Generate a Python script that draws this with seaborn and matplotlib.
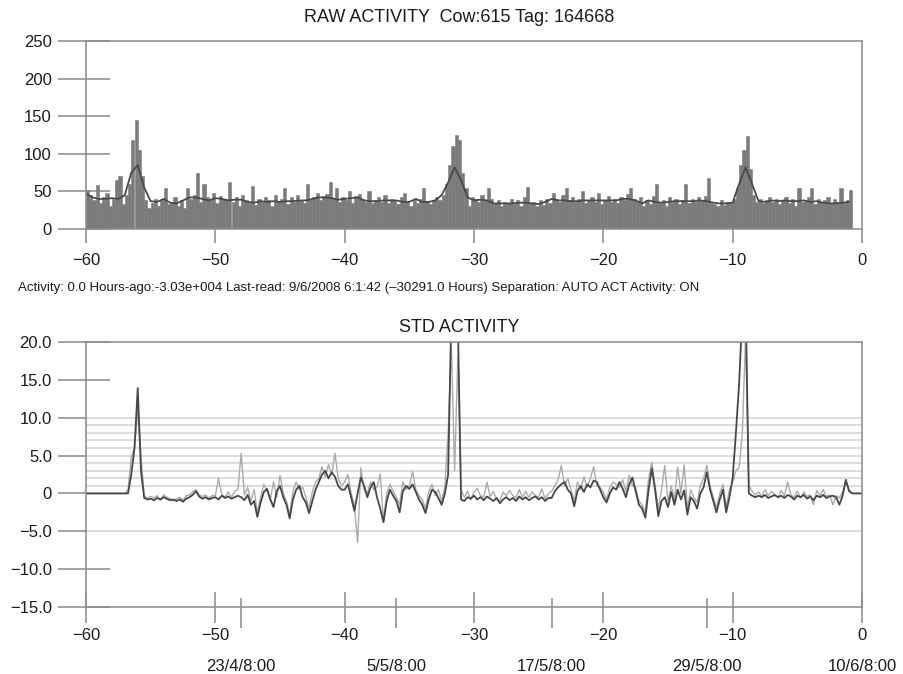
import numpy as np
import pandas as pd
import matplotlib
matplotlib.use("Agg")
import matplotlib.pyplot as plt
import seaborn as sns
from matplotlib.ticker import FixedLocator

sns.set_theme(style="white")
plt.rcParams["font.family"] = ["Liberation Sans", "DejaVu Sans"]

# ---------------------------------------------------------------- text
title_raw = "RAW ACTIVITY  Cow:615 Tag: 164668"
title_std = "STD ACTIVITY"
status_line = ("Activity: 0.0 Hours-ago:-3.03e+004 Last-read: 9/6/2008 6:1:42 "
               "(\u201330291.0 Hours) Separation: AUTO ACT Activity: ON")

# ---------------------------------------------------------------- axes ticks
day_ticks = [-60, -50, -40, -30, -20, -10, 0]
raw_yticks = [0, 50, 100, 150, 200, 250]
std_yticks = [20, 15, 10, 5, 0, -5, -10, -15]
std_ytick_labels = ["20.0", "15.0", "10.0", "5.0", "0", "\u22125.0", "\u221210.0", "\u221215.0"]
std_long_ticks = [20, 15, -10, -15]
std_grid_levels = [-5, 1, 2, 3, 4, 5, 6, 7, 8, 9, 10]
date_ticks = [-48, -36, -24, -12, 0]
date_labels = ["23/4/8:00", "5/5/8:00", "17/5/8:00", "29/5/8:00", "10/6/8:00"]

# ---------------------------------------------------------------- data
# raw activity per 6-hour bin, days before last reading (starting at day -60)
raw_start, raw_step = -60.0, 0.25
raw_activity = [
    52, 45, 38, 58,   35, 42, 48, 30,   40, 65, 70, 33,
    45, 60, 118, 145, 105, 70, 38, 28,  35, 40, 30, 38,
    55, 33, 36, 42,   30, 38, 28, 55,   40, 45, 75, 36,
    60, 42, 38, 48,   35, 44, 40, 38,   62, 36, 42, 30,
    45, 38, 35, 57,   32, 40, 36, 42,   38, 30, 45, 36,
    40, 55, 33, 42,   36, 45, 38, 34,   60, 40, 42, 48,
    38, 44, 46, 63,   40, 55, 36, 42,   38, 50, 35, 44,
    46, 40, 36, 50,   34, 38, 42, 36,   45, 35, 40, 38,
    33, 42, 48, 36,   30, 38, 35, 40,   55, 36, 33, 38,
    42, 38, 45, 60,   85, 110, 125, 118, 75, 55, 30, 42,
    40, 36, 45, 38,   55, 40, 33, 38,   30, 36, 34, 40,
    33, 38, 30, 42,   56, 34, 36, 30,   38, 32, 40, 35,
    48, 40, 36, 45,   55, 38, 42, 36,   40, 50, 35, 38,
    42, 36, 48, 33,   38, 44, 36, 40,   35, 42, 38, 46,
    55, 40, 36, 42,   30, 38, 33, 44,   60, 35, 38, 30,
    42, 36, 40, 33,   38, 60, 35, 40,   36, 42, 38, 44,
    68, 35, 33, 30,   38, 32, 36, 34,   40, 55, 85, 105,
    124, 80, 45, 36,  40, 34, 38, 42,   36, 40, 33, 38,
    42, 35, 40, 30,   55, 36, 38, 42,   55, 33, 40, 36,
    38, 42, 35, 40,   36, 55, 34, 38,
    52,
]

# running mean of raw activity, every half day from day -60
trend_start, trend_step = -60.0, 0.5
raw_trend = [
    47, 42, 40, 40, 41, 40, 45, 75, 85, 55,
    37, 36, 40, 35, 34, 38, 42, 42, 40, 38,
    41, 40, 38, 39, 39, 36, 35, 37, 36, 37,
    36, 37, 37, 38, 38, 40, 42, 42, 41, 39,
    40, 41, 42, 38, 37, 37, 38, 38, 38, 36,
    36, 40, 36, 36, 38, 45, 62, 82, 65, 42,
    38, 39, 38, 34, 34, 34, 34, 35, 35, 34,
    33, 36, 40, 38, 38, 37, 37, 38, 38, 38,
    38, 38, 38, 40, 40, 38, 34, 38, 36, 35,
    36, 37, 37, 37, 37, 38, 37, 35, 34, 34,
    35, 60, 82, 60, 37, 36, 38, 37, 38, 37,
    37, 38, 36, 37, 35, 34, 34, 35, 36,
]

# standardised activity every 6 hours from day -60 to day 0
std_start, std_step = -60.0, 0.25
std_activity = [
    0.0, 0.0, 0.0, 0.0,   0.0, 0.0, 0.0, 0.0,   0.0, 0.0, 0.0, 0.0,
    0.0, 0.0, 2.5, 6.0,   13.9, 3.0, -0.6, -0.8,  -0.7, -0.9, -0.6, -0.8,
    -0.5, -0.7, -0.9, -0.8,  -1.0, -0.8, -1.1, -0.7,  -0.5, -0.2, 0.3, -0.4,
    -0.7, -0.5, -0.8, -0.6,  -0.5, -0.8, -0.3, -0.6,  -0.4, -0.7, -0.5, -0.3,
    -0.5, -0.9, -0.2, -1.5,  -1.0, -3.1, -1.2, 0.2,   0.6, -0.8, -1.8, 0.3,
    1.0, -0.5, -1.5, -3.3,   -0.8, 0.5, 1.0, -0.5,   -1.2, -2.6, -1.0, 0.5,
    1.5, 2.5, 3.0, 2.0,      2.8, 2.2, 1.0, 0.5,     0.5, 1.2, -0.5, -2.3,
    0.0, 2.1, 1.0, -0.5,     0.8, 1.5, -0.5, -2.0,   -3.8, -1.0, 0.5, -0.3,
    -1.0, -2.5, 0.3, 1.0,    0.6, 1.2, 0.2, -0.8,    -1.5, -2.6, -0.8, 0.5,
    0.2, -0.6, -1.5, 0.0,    2.5, 24.0, 26.0, 23.0,  -0.8, -1.0, -0.5, -0.7,
    -0.3, -0.8, -0.5, -0.9,  -0.4, -0.7, -1.0, -0.6, -1.3, -0.8, -0.5, -0.9,
    -0.6, -1.0, -0.4, -0.8,  -0.5, -0.9, -0.6, -0.4, -0.8, -0.5, -1.0, -0.6,
    -0.6, 0.3, 0.8, 1.2,     1.5, 0.5, 0.0, -1.7,    0.3, 1.0, 0.2, 1.2,
    0.8, 1.7, 1.5, 0.5,      -0.5, -1.2, 0.0, 0.8,   0.5, 1.5, 0.6, -0.5,
    1.2, 2.1, 0.3, -1.5,     -2.0, -3.2, 0.5, 3.3,   0.5, -3.0, -1.0, -0.5,
    -1.8, 0.2, -1.5, 0.5,    -0.8, 0.4, -2.8, -0.5,  -1.0, -2.0, 0.0, 0.8,
    2.8, 0.5, -1.0, -2.5,    -0.8, 0.5, -2.5, -0.5,  2.0, 8.0, 14.5, 24.0,
    26.0, 0.0, -0.3, -0.5,   -0.3, -0.5, -0.2, -0.6, -0.4, -0.2, -0.5, -0.3,
    -0.6, -0.2, -0.4, -0.8,  -0.3, -0.5, -0.2, -0.7, -0.4, -0.9, -0.3, -0.5,
    -0.2, -0.6, -0.4, -0.3,  -0.5, -1.5, -0.3, 1.8,  0.3, 0.0, 0.0, 0.0,
    0.0,
]

# short-term standardised activity on the same 6-hour grid
std_activity_short = [
    0.0, 0.0, 0.0, 0.0,   0.0, 0.0, 0.0, 0.0,   0.0, 0.0, 0.0, 0.0,
    0.0, 0.5, 4.8, 6.0,   11.0, 5.0, -0.3, -0.6,  -0.4, -0.6, -0.3, -0.9,
    -0.2, -0.5, -0.7, -1.0,  -0.7, -0.5, -0.9, -0.3,  -0.2, 0.2, 0.5, -0.2,
    -0.4, -0.2, -0.6, -0.3,  -0.3, 2.0, -0.2, -0.5,   0.2, -0.5, 0.3, 0.5,
    5.3, -0.2, 0.8, -1.0,    0.5, -2.5, -0.5, 1.2,    0.3, -0.8, 1.5, -0.5,
    2.4, 0.0, -1.0, -2.8,    0.3, 1.5, 0.5, 0.8,      -0.5, -2.0, 0.2, 1.5,
    2.0, 3.5, 2.2, 3.8,      2.5, 5.3, 2.0, 1.0,      1.5, 2.5, 0.0, -1.5,
    -6.5, 3.4, 0.5, 0.0,     1.5, 0.5, 0.8, 2.6,      -3.6, 0.0, 1.2, 0.3,
    -0.5, -1.5, 1.5, 0.5,    1.0, 2.9, 0.5, -0.3,     -0.8, -2.0, 0.2, 1.2,
    -0.3, 0.5, -1.0, 1.0,    8.0, 19.5, 3.0, 18.0,    0.5, -0.5, 0.3, -0.8,
    0.2, 0.7, -0.3, -0.5,    1.5, -0.4, 0.3, -0.8,    -1.0, 0.2, -0.3, 0.4,
    -0.3, -0.6, 0.5, -0.5,   0.3, -0.5, 0.2, -0.3,    -0.5, 0.6, -0.7, 0.0,
    0.3, 1.0, 1.8, 3.7,      1.0, 2.0, 0.5, -1.0,     1.5, 0.5, 2.2, 0.8,
    2.0, 3.5, 1.0, 0.8,      0.2, -0.8, 0.8, 1.5,     1.2, 0.8, 1.8, 0.2,
    2.4, 1.0, 0.8, -1.0,     -1.5, -2.5, 2.0, 4.1,    1.0, -2.0, 0.5, 3.7,
    -1.0, 1.0, -0.8, 3.5,    0.0, 3.8, -2.0, 0.5,     -0.5, -1.2, 1.0, 2.0,
    3.7, 1.0, -0.5, -1.8,    0.0, 1.2, -1.8, 0.5,     1.5, 3.0, 3.4, 8.0,
    21.0, 1.0, 0.3, -0.2,    0.2, -0.4, 0.5, -0.3,    0.3, -0.2, -0.5, 0.4,
    -0.3, 1.5, -0.2, -0.5,   0.3, -0.6, 0.2, -0.4,    -0.2, -1.5, 0.4, -0.3,
    0.5, -0.4, -0.2, -1.5,   -0.3, -0.6, 0.2, 1.5,    0.5, 0.0, 0.0, 0.0,
    0.0,
]

raw_df = pd.DataFrame({"day": raw_start + raw_step * np.arange(len(raw_activity)),
                       "activity": raw_activity})
trend_df = pd.DataFrame({"day": trend_start + trend_step * np.arange(len(raw_trend)),
                         "activity": raw_trend})
std_df = pd.DataFrame({"day": std_start + std_step * np.arange(len(std_activity)),
                       "std": std_activity, "std_short": std_activity_short})

# ---------------------------------------------------------------- style
PX = 72.0 / 100.0          # points per pixel at dpi 100
AXIS_GREY = "#8e8e8e"
BAR_GREY = "#7b7b7b"
TEXT = "#1c1c1c"
LABEL_SIZE = 12

fig = plt.figure(figsize=(9.04, 6.74), dpi=100)
fig.patch.set_facecolor("white")
W, H = 904.0, 674.0
ax_raw = fig.add_axes([86 / W, 1 - 229 / H, 776 / W, 188 / H])
ax_std = fig.add_axes([86 / W, 1 - 607 / H, 776 / W, 265 / H])


def frame(ax):
    for side in ["left", "right", "top", "bottom"]:
        ax.spines[side].set_visible(True)
        ax.spines[side].set_color(AXIS_GREY)
        ax.spines[side].set_linewidth(1.6 * PX)
    ax.set_xlabel("")
    ax.set_ylabel("")
    ax.set_facecolor("white")


def inner_ticks(ax, ticks, length_px):
    # inward half of the long y tick marks
    sec = ax.secondary_yaxis("left")
    sec.set_yticks(ticks)
    sec.tick_params(axis="y", direction="in", length=length_px * PX,
                    width=1.6 * PX, color=AXIS_GREY, labelleft=False, left=True)
    sec.spines["left"].set_visible(False)
    return sec


# ---------------------------------------------------------------- raw activity
sns.histplot(data=raw_df, x=raw_df["day"] + raw_step / 2, weights="activity",
             binwidth=raw_step, binrange=(raw_start, raw_df["day"].iloc[-1] + raw_step),
             color=BAR_GREY, alpha=1.0, linewidth=0.4, edgecolor=BAR_GREY, ax=ax_raw)
sns.lineplot(data=trend_df, x="day", y="activity", color="#4a4a4a",
             linewidth=1.3, ax=ax_raw)
ax_raw.set_xlim(-60, 0)
ax_raw.set_ylim(0, 250)
frame(ax_raw)
ax_raw.set_xticks(day_ticks)
ax_raw.set_yticks(raw_yticks)
ax_raw.tick_params(axis="y", direction="out", length=28 * PX, width=1.6 * PX,
                   color=AXIS_GREY, pad=6 * PX, labelsize=LABEL_SIZE,
                   labelcolor=TEXT, left=True)
ax_raw.tick_params(axis="x", direction="out", length=14 * PX, width=1.6 * PX,
                   color=AXIS_GREY, pad=10 * PX, labelsize=LABEL_SIZE,
                   labelcolor=TEXT, bottom=True)
inner_ticks(ax_raw, raw_yticks, 24)

# ---------------------------------------------------------------- std activity
sns.lineplot(data=std_df, x="day", y="std_short", color="#ababab",
             linewidth=1.0, ax=ax_std)
sns.lineplot(data=std_df, x="day", y="std", color="#474747",
             linewidth=1.3, ax=ax_std)
ax_std.set_xlim(-60, 0)
ax_std.set_ylim(-15, 20)
frame(ax_std)
ax_std.set_yticks(std_yticks)
ax_std.set_yticklabels(std_ytick_labels)
ax_std.yaxis.remove_overlapping_locs = False
ax_std.yaxis.set_minor_locator(FixedLocator(std_grid_levels))
ax_std.tick_params(axis="y", which="minor", length=0)
ax_std.grid(False, which="major")
ax_std.grid(True, axis="y", which="minor", color="#dadada", linewidth=1.3)
ax_std.set_axisbelow(True)
ax_std.tick_params(axis="y", direction="out", length=28 * PX, width=1.6 * PX,
                   color=AXIS_GREY, pad=6 * PX, labelsize=LABEL_SIZE,
                   labelcolor=TEXT, left=True)
inner_ticks(ax_std, std_long_ticks, 24)

ax_std.set_xticks(day_ticks)
ax_std.tick_params(axis="x", direction="inout", length=31 * PX, width=1.6 * PX,
                   color=AXIS_GREY, pad=5.5 * PX, labelsize=LABEL_SIZE,
                   labelcolor=TEXT, bottom=True)

date_ax = ax_std.secondary_xaxis(9 / 265)
date_ax.set_xticks(date_ticks)
date_ax.set_xticklabels(date_labels)
date_ax.tick_params(axis="x", direction="out", length=30 * PX, width=1.6 * PX,
                    color=AXIS_GREY, pad=31 * PX, labelsize=LABEL_SIZE,
                    labelcolor=TEXT, bottom=True)
date_ax.spines["bottom"].set_visible(False)
date_ax.xaxis.get_major_ticks()[-1].tick1line.set_visible(False)

# ---------------------------------------------------------------- titles
fig.text(459 / W, 1 - 17 / H, title_raw, ha="center", va="center",
         fontsize=13, color=TEXT)
fig.text(18 / W, 1 - 288 / H, status_line, ha="left", va="center",
         fontsize=9.5, color=TEXT)
fig.text(459 / W, 1 - 327 / H, title_std, ha="center", va="center",
         fontsize=13, color=TEXT)

fig.savefig("out.png", dpi=100, facecolor="white")
